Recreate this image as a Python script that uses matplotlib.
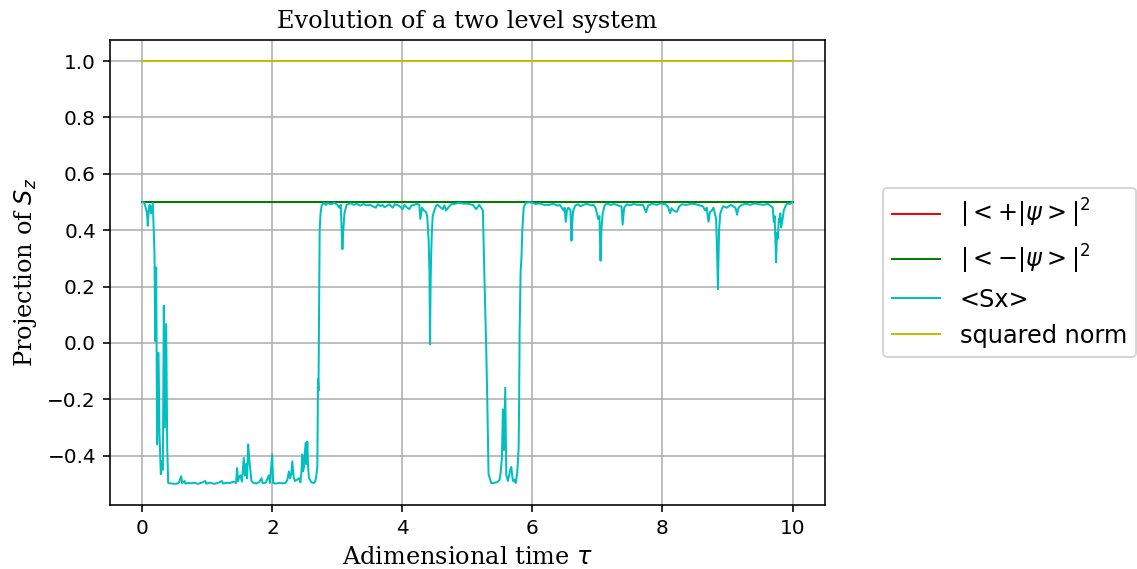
import matplotlib
matplotlib.use('Agg')
import matplotlib.pyplot as plt

# time grid for the two populations and the norm
t_flat = [0.0, 10.0]
p_plus = [0.5, 0.5]
p_minus = [0.5, 0.5]
norm = [1.0, 1.0]

# <Sx> trajectory as (time, value) pairs
sx_points = [
    (0.00, 0.500), (0.03, 0.497), (0.05, 0.48), (0.07, 0.46), (0.082, 0.416), (0.095, 0.47),
    (0.11, 0.49), (0.13, 0.46), (0.159, 0.497), (0.185, 0.321), (0.196, 0.007), (0.211, 0.268),
    (0.226, -0.360), (0.247, -0.035), (0.262, -0.325), (0.283, -0.466), (0.298, -0.420),
    (0.314, -0.450), (0.329, 0.132), (0.345, -0.300), (0.365, 0.067), (0.381, -0.370),
    (0.396, -0.497), (0.45, -0.499), (0.52, -0.500), (0.56, -0.496), (0.597, -0.473),
    (0.61, -0.497), (0.648, -0.490), (0.66, -0.499), (0.70, -0.497), (0.75, -0.498),
    (0.80, -0.496), (0.85, -0.500), (0.90, -0.497), (0.967, -0.490), (0.98, -0.499),
    (1.05, -0.496), (1.10, -0.500), (1.16, -0.497), (1.224, -0.490), (1.24, -0.499),
    (1.30, -0.496), (1.35, -0.497), (1.40, -0.492), (1.44, -0.497), (1.456, -0.444),
    (1.47, -0.490), (1.49, -0.475), (1.507, -0.470), (1.53, -0.492), (1.559, -0.408),
    (1.575, -0.470), (1.595, -0.430), (1.61, -0.480), (1.626, -0.360), (1.646, -0.420),
    (1.677, -0.490), (1.71, -0.497), (1.75, -0.499), (1.80, -0.493), (1.831, -0.480),
    (1.85, -0.498), (1.90, -0.495), (1.944, -0.470), (1.96, -0.497), (1.996, -0.396),
    (2.01, -0.497), (2.05, -0.499), (2.10, -0.497), (2.15, -0.498), (2.20, -0.497),
    (2.23, -0.485), (2.253, -0.456), (2.27, -0.480), (2.29, -0.465), (2.305, -0.420),
    (2.325, -0.475), (2.346, -0.490), (2.38, -0.485), (2.408, -0.480), (2.43, -0.495),
    (2.445, -0.460), (2.459, -0.396), (2.47, -0.455), (2.485, -0.440), (2.497, -0.400),
    (2.510, -0.355), (2.523, -0.430), (2.536, -0.350), (2.548, -0.440), (2.562, -0.480),
    (2.60, -0.495), (2.639, -0.497), (2.66, -0.490), (2.675, -0.470), (2.69, -0.440),
    (2.695, -0.300), (2.701, -0.129), (2.708, -0.170), (2.716, 0.100), (2.726, 0.400),
    (2.74, 0.460), (2.757, 0.488), (2.79, 0.497), (2.82, 0.490), (2.85, 0.496),
    (2.90, 0.492), (2.95, 0.497), (3.00, 0.490), (3.025, 0.480), (3.05, 0.490),
    (3.076, 0.333), (3.09, 0.400), (3.107, 0.460), (3.14, 0.490), (3.20, 0.496),
    (3.25, 0.490), (3.30, 0.494), (3.35, 0.487), (3.40, 0.493), (3.45, 0.488),
    (3.50, 0.490), (3.55, 0.484), (3.59, 0.480), (3.62, 0.492), (3.66, 0.486),
    (3.694, 0.490), (3.72, 0.482), (3.75, 0.485), (3.80, 0.492), (3.848, 0.480),
    (3.88, 0.492), (3.92, 0.490), (3.96, 0.484), (4.002, 0.475), (4.03, 0.490),
    (4.06, 0.482), (4.105, 0.475), (4.14, 0.488), (4.18, 0.490), (4.22, 0.494),
    (4.259, 0.490), (4.275, 0.440), (4.30, 0.480), (4.33, 0.470), (4.362, 0.465),
    (4.38, 0.450), (4.403, 0.363), (4.415, 0.250), (4.424, -0.005), (4.432, 0.200),
    (4.44, 0.300), (4.45, 0.380), (4.465, 0.450), (4.49, 0.470), (4.52, 0.488),
    (4.54, 0.490), (4.58, 0.482), (4.62, 0.475), (4.645, 0.488), (4.671, 0.470),
    (4.72, 0.485), (4.76, 0.494), (4.80, 0.493), (4.86, 0.497), (4.928, 0.495),
    (5.00, 0.494), (5.08, 0.490), (5.11, 0.482), (5.134, 0.475), (5.18, 0.490),
    (5.21, 0.480), (5.237, 0.470), (5.262, 0.220), (5.288, -0.017), (5.304, -0.195),
    (5.324, -0.466), (5.365, -0.497), (5.391, -0.497), (5.442, -0.495), (5.47, -0.492),
    (5.494, -0.485), (5.51, -0.460), (5.530, -0.408), (5.545, -0.236), (5.561, -0.380),
    (5.581, -0.159), (5.597, -0.470), (5.622, -0.490), (5.64, -0.470), (5.658, -0.450),
    (5.674, -0.440), (5.69, -0.475), (5.700, -0.490), (5.72, -0.485), (5.741, -0.497),
    (5.766, -0.460), (5.787, -0.373), (5.795, -0.200), (5.802, 0.043), (5.818, 0.256),
    (5.83, 0.300), (5.844, 0.400), (5.864, 0.480), (5.895, 0.497), (5.95, 0.499),
    (6.00, 0.497), (6.05, 0.493), (6.11, 0.495), (6.18, 0.490), (6.26, 0.490),
    (6.32, 0.494), (6.38, 0.487), (6.42, 0.490), (6.48, 0.470), (6.495, 0.480),
    (6.512, 0.430), (6.53, 0.470), (6.55, 0.480), (6.57, 0.475), (6.585, 0.470),
    (6.600, 0.363), (6.615, 0.440), (6.626, 0.470), (6.66, 0.488), (6.70, 0.492),
    (6.74, 0.485), (6.78, 0.490), (6.84, 0.494), (6.90, 0.488), (6.94, 0.490),
    (6.97, 0.480), (6.99, 0.460), (7.011, 0.440), (7.03, 0.450), (7.047, 0.292),
    (7.06, 0.400), (7.08, 0.460), (7.11, 0.488), (7.14, 0.495), (7.20, 0.490),
    (7.25, 0.493), (7.30, 0.490), (7.34, 0.485), (7.37, 0.485), (7.387, 0.420),
    (7.41, 0.480), (7.45, 0.492), (7.50, 0.488), (7.55, 0.493), (7.62, 0.490),
    (7.70, 0.490), (7.747, 0.464), (7.78, 0.488), (7.84, 0.494), (7.91, 0.490),
    (7.97, 0.495), (8.05, 0.492), (8.09, 0.480), (8.117, 0.460), (8.14, 0.478),
    (8.17, 0.470), (8.22, 0.465), (8.26, 0.485), (8.30, 0.492), (8.37, 0.490),
    (8.44, 0.494), (8.50, 0.493), (8.57, 0.488), (8.62, 0.485), (8.657, 0.470),
    (8.68, 0.480), (8.708, 0.430), (8.73, 0.465), (8.76, 0.470), (8.785, 0.480),
    (8.81, 0.455), (8.825, 0.440), (8.837, 0.350), (8.853, 0.191), (8.87, 0.400),
    (8.889, 0.460), (8.93, 0.485), (8.99, 0.480), (9.05, 0.490), (9.12, 0.480),
    (9.135, 0.470), (9.146, 0.455), (9.17, 0.480), (9.22, 0.490), (9.28, 0.494),
    (9.35, 0.490), (9.42, 0.495), (9.49, 0.492), (9.56, 0.490), (9.62, 0.494),
    (9.67, 0.485), (9.696, 0.480), (9.712, 0.430), (9.725, 0.450), (9.738, 0.360),
    (9.748, 0.286), (9.76, 0.390), (9.774, 0.370), (9.79, 0.440), (9.80, 0.430),
    (9.812, 0.460), (9.825, 0.410), (9.841, 0.430), (9.866, 0.470), (9.89, 0.485),
    (9.92, 0.495), (9.96, 0.493), (10.0, 0.500),
]
t_sx = [p[0] for p in sx_points]
sx = [p[1] for p in sx_points]

serif = {'family': 'DejaVu Serif', 'size': 12}

fig = plt.figure(figsize=(1137 / 144, 569 / 144), dpi=144)
ax = fig.add_axes([0.0967, 0.1125, 0.6289, 0.8172])

ax.plot(t_flat, p_plus, color='r', lw=1, label=r'$|<+|\psi>|^2$')
ax.plot(t_flat, p_minus, color='g', lw=1, label=r'$|<-|\psi>|^2$')
ax.plot(t_sx, sx, color='c', lw=1, label='<Sx>')
ax.plot(t_flat, norm, color='y', lw=1, label='squared norm')

ax.set_title('Evolution of a two level system', fontdict=serif)
ax.set_xlabel(r'Adimensional time $\tau$', fontdict=serif)
ax.set_ylabel(r'Projection of $S_z$', fontdict=serif)
ax.tick_params(labelsize=10)
ax.grid(True)
ax.legend(loc='center left', bbox_to_anchor=(1.064, 0.5), fontsize=12)

fig.savefig('out.png', dpi=144)
